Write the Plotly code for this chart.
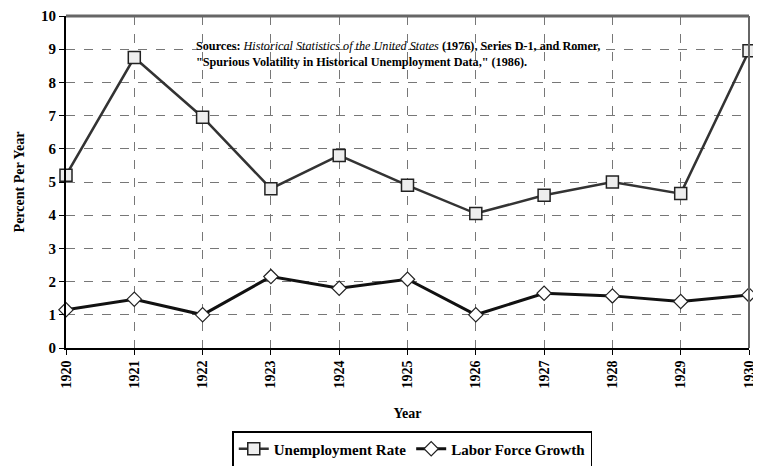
import plotly.graph_objects as go

years = [1920, 1921, 1922, 1923, 1924, 1925, 1926, 1927, 1928, 1929, 1930]
unemployment = [5.2, 8.75, 6.95, 4.8, 5.8, 4.9, 4.05, 4.6, 5.0, 4.65, 8.95]
labor_growth = [1.15, 1.47, 1.0, 2.15, 1.8, 2.07, 1.0, 1.65, 1.57, 1.4, 1.6]
y_ticks = list(range(0, 11))

FONT = "Liberation Serif"

fig = go.Figure()
fig.add_trace(go.Scatter(
    x=years, y=unemployment, mode="lines+markers", name="Unemployment Rate",
    line=dict(color="#333333", width=2.5),
    marker=dict(symbol="square", size=12, color="#eeeeee", line=dict(color="#222222", width=1.5)),
    cliponaxis=False,
))
fig.add_trace(go.Scatter(
    x=years, y=labor_growth, mode="lines+markers", name="Labor Force Growth",
    line=dict(color="#111111", width=3),
    marker=dict(symbol="diamond", size=11, color="white", line=dict(color="#222222", width=1.2)),
    cliponaxis=False,
))

fig.add_annotation(
    x=0.187, y=8.85, xref="paper", yref="y", xanchor="left", yanchor="middle",
    text=("<b>Sources:</b> <i>Historical Statistics of the United States</i> <b>(1976), Series D-1, and Romer,</b><br>"
          "<b>\"Spurious Volatility in Historical Unemployment Data,\" (1986).</b>"),
    showarrow=False, align="left", font=dict(family=FONT, size=12.2, color="black"),
)

fig.update_layout(
    width=753, height=458,
    margin=dict(l=58, r=12, t=8, b=118, autoexpand=False),
    paper_bgcolor="white", plot_bgcolor="white",
    font=dict(family=FONT, color="black"),
    showlegend=True,
    legend=dict(orientation="h", x=0.507, xanchor="center", y=-0.25, yanchor="top",
                bordercolor="black", borderwidth=1.5,
                font=dict(family=FONT, size=15, color="black", weight="bold"),
                itemwidth=30),
    xaxis=dict(
        range=[1920, 1930], tickmode="array", tickvals=years, ticktext=[str(y) for y in years],
        tickangle=-90, tickfont=dict(family=FONT, size=14, weight="bold"),
        ticklabeloverflow="allow",
        showgrid=True, gridcolor="#777777", griddash="dash", gridwidth=1,
        showline=True, linecolor="black", linewidth=2, mirror=False,
        ticks="outside", ticklen=5, tickcolor="black", automargin=False,
        title=dict(text="<b>Year</b>", font=dict(family=FONT, size=14), standoff=21),
        zeroline=False,
    ),
    yaxis=dict(
        range=[0, 10], tickmode="array", tickvals=y_ticks,
        tickfont=dict(family=FONT, size=15, weight="bold"),
        showgrid=True, gridcolor="#777777", griddash="dash", gridwidth=1,
        showline=True, linecolor="black", linewidth=2,
        ticks="outside", ticklen=5, tickcolor="black", automargin=False,
        title=dict(text="<b>Percent Per Year</b>", font=dict(family=FONT, size=14), standoff=13),
        zeroline=False,
    ),
    shapes=[
        dict(type="line", xref="paper", yref="paper", x0=0, x1=1, y0=1, y1=1,
             line=dict(color="#666666", width=3)),
        dict(type="line", xref="paper", yref="paper", x0=1, x1=1, y0=0, y1=1,
             line=dict(color="#666666", width=2)),
    ],
)

fig.write_html("out.html")
